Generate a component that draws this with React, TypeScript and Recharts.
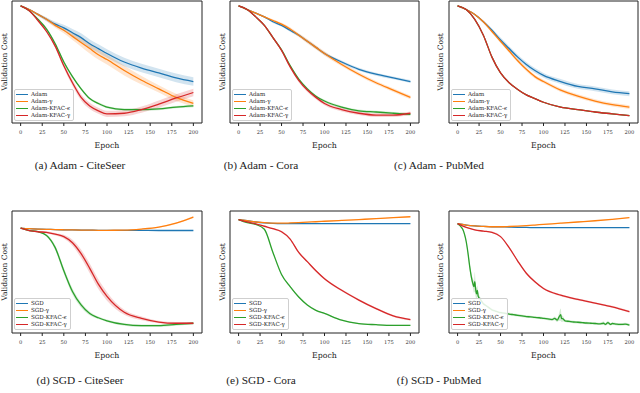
import React from 'react';
import { ComposedChart, Line, Area, XAxis, YAxis, ReferenceArea, Legend } from 'recharts';

const SERIF = "'DejaVu Serif', serif";
const CAPTION_FONT = "'Liberation Serif', 'Times New Roman', serif";
const COLORS = ['#1f77b4', '#ff7f0e', '#2ca02c', '#d62728'];

const EPOCHS = [0, 10, 20, 30, 40, 50, 60, 70, 80, 90, 100, 120, 140, 160, 180, 200];
const X_TICKS = [0, 25, 50, 75, 100, 125, 150, 175, 200];
const ADAM_NAMES = ['Adam', 'Adam-γ', 'Adam-KFAC-ϵ', 'Adam-KFAC-γ'];
const SGD_NAMES = ['SGD', 'SGD-γ', 'SGD-KFAC-ϵ', 'SGD-KFAC-γ'];
const CAPTIONS = ['(a) Adam - CiteSeer', '(b) Adam - Cora', '(c) Adam - PubMed', '(d) SGD - CiteSeer', '(e) SGD - Cora', '(f) SGD - PubMed'];

// (a) Adam - CiteSeer
const aAdam = [96, 93, 89, 85, 81, 78, 74, 70, 65, 61, 57, 50, 45, 41, 37, 34];
const aAdamG = [96, 93, 89, 85, 80, 76, 71, 66, 61, 56, 52, 43, 35, 28, 21, 16];
const aKfacE = [96, 92, 85, 77, 65, 50, 38, 28, 20, 16, 13, 11, 11, 11.5, 13, 14];
const aKfacG = [96, 92, 84, 75, 63, 47, 33, 21, 14, 10, 7.5, 8, 11, 15.5, 20.5, 25];
const aAdamBand = [0, 0.5, 1, 1.5, 2, 2.5, 3, 3.5, 3.5, 3.5, 3.5, 3.5, 3.5, 3.5, 3.5, 3.5];
const aAdamGBand = [0, 0.5, 1, 1.5, 2, 2.5, 3, 3.5, 4, 4, 4, 4, 3.5, 3, 3, 2.5];
const aKfacEBand = [0, 0.3, 0.6, 1, 1.2, 1.2, 1.2, 1, 1, 1, 1, 1, 1, 1, 1, 1];
const aKfacGBand = [0, 0.3, 0.6, 1, 1.5, 2, 2.5, 2.5, 2.5, 2.5, 2.5, 2.5, 2.5, 3, 3, 3];

// (b) Adam - Cora
const bAdam = [96, 93, 90, 87, 83, 80, 76, 72, 67, 62, 57, 50, 44, 40, 37, 34];
const bAdamG = [96, 93, 90, 87, 84, 81, 77, 72, 67, 62, 57, 48, 40, 33, 27, 21];
const bKfacE = [96, 93, 87, 80, 70, 60, 47, 36, 28, 22, 18, 13, 10, 9, 8, 7];
const bKfacG = [96, 93, 87, 80, 70, 59.5, 46, 35, 27, 21, 16, 11, 8, 6.5, 6.5, 8];
const bAdamBand = [0, 0.3, 0.5, 0.8, 1, 1, 1.2, 1.2, 1.2, 1.2, 1.2, 1.2, 1.2, 1.2, 1.2, 1.2];
const bAdamGBand = [0, 0.3, 0.5, 0.8, 1, 1.2, 1.5, 1.5, 1.8, 1.8, 1.8, 1.5, 1.5, 1.5, 1.5, 1.5];
const bKfacEBand = [0, 0.3, 0.5, 0.8, 1, 1, 1, 1, 1, 1, 1, 1, 1, 1, 1, 1];
const bKfacGBand = [0, 0.3, 0.5, 0.8, 1, 1.2, 1.2, 1.5, 1.5, 1.5, 1.5, 1.5, 1.5, 1.5, 1.5, 1.5];

// (c) Adam - PubMed
const cAdam = [96, 93, 89, 83, 76, 68, 61, 54, 48, 43, 39, 34, 30, 28, 25.5, 24];
const cAdamG = [96, 93, 89, 83, 75, 67, 59, 51, 44, 38, 34, 27, 22, 18, 15, 13];
const cKfacE = [96, 93, 85, 72, 54, 41, 33, 27.5, 23, 20, 17, 13, 11, 9, 7.5, 6];
const cKfacG = [96, 93, 85, 72, 54, 41, 33, 27.5, 23, 20, 17, 13, 11, 9, 7.5, 6];
const cAdamBand = [0, 0.3, 0.6, 1, 1.5, 2, 2, 2, 2, 2, 2, 2, 2, 2, 2, 2];
const cAdamGBand = [0, 0.3, 0.6, 1, 1.2, 1.5, 1.5, 1.5, 1.5, 1.5, 1.5, 1.5, 1.5, 1.5, 1.5, 1.5];
const cKfacEBand = [0, 0.2, 0.3, 0.4, 0.5, 0.5, 0.5, 0.5, 0.5, 0.5, 0.5, 0.5, 0.5, 0.5, 0.5, 0.5];
const cKfacGBand = [0, 0.2, 0.3, 0.4, 0.5, 0.5, 0.5, 0.5, 0.5, 0.5, 0.5, 0.5, 0.5, 0.5, 0.5, 0.5];

// (d) SGD - CiteSeer
const dSgd = [86, 85.5, 85.2, 85, 84.8, 84.6, 84.5, 84.4, 84.3, 84.2, 84.2, 84.1, 84.1, 84, 84, 84];
const dSgdG = [86, 85.5, 85.2, 85, 84.8, 84.6, 84.5, 84.4, 84.3, 84.2, 84.2, 84.3, 85.2, 86.8, 90, 95];
const dKfacE = [86, 84, 83, 80, 70, 51, 34, 23, 16, 12.5, 10, 7, 6, 6, 7, 8];
const dKfacG = [86, 84, 83, 82.5, 81, 79, 74, 65, 53, 40, 30, 17, 12, 9, 8, 8];
const dSgdBand = [0, 0.2, 0.2, 0.3, 0.3, 0.3, 0.3, 0.3, 0.3, 0.3, 0.3, 0.3, 0.3, 0.3, 0.3, 0.3];
const dSgdGBand = [0, 0.2, 0.2, 0.3, 0.3, 0.3, 0.3, 0.3, 0.3, 0.3, 0.3, 0.3, 0.4, 0.5, 0.6, 0.8];
const dKfacEBand = [0, 0.5, 0.5, 1, 2, 2.5, 2.5, 2, 1.5, 1, 1, 1, 1, 1, 1, 1];
const dKfacGBand = [0, 0.5, 0.5, 1, 1, 1.5, 2.5, 3.5, 4, 4, 3.5, 2, 1.5, 1, 1, 1];

// (e) SGD - Cora
const eSgd = [93, 92, 91, 90.3, 89.8, 89.6, 89.6, 89.6, 89.6, 89.6, 89.6, 89.6, 89.6, 89.6, 89.6, 89.6];
const eSgdG = [93, 92, 91, 90.5, 90, 90, 90.2, 90.5, 90.9, 91.2, 91.6, 92.3, 93, 93.7, 94.5, 95.3];
const eKfacE = [93, 90.5, 89, 85, 66, 48, 38, 29.5, 23, 18.6, 16, 10.5, 7.7, 6.8, 6.3, 6.3];
const eKfacG = [93, 91, 89.5, 87.5, 85.5, 83, 77, 66, 58.5, 51, 44.5, 35, 27, 20, 14, 11];
const eSgdBand = [0, 0.2, 0.2, 0.2, 0.2, 0.2, 0.2, 0.2, 0.2, 0.2, 0.2, 0.2, 0.2, 0.2, 0.2, 0.2];
const eSgdGBand = [0, 0.2, 0.2, 0.2, 0.2, 0.2, 0.2, 0.2, 0.2, 0.3, 0.3, 0.3, 0.3, 0.3, 0.3, 0.3];
const eKfacEBand = [0, 0.3, 0.4, 0.6, 0.8, 0.8, 0.8, 0.6, 0.6, 0.5, 0.5, 0.5, 0.5, 0.5, 0.5, 0.5];
const eKfacGBand = [0, 0.3, 0.4, 0.5, 0.6, 0.8, 0.8, 0.8, 0.8, 0.8, 0.8, 0.8, 0.8, 0.8, 0.8, 0.8];

// (f) SGD - PubMed
const fSgd = [89.6, 88.5, 87.8, 87.4, 87.1, 87, 86.8, 86.6, 86.5, 86.4, 86.3, 86.3, 86.3, 86.3, 86.3, 86.3];
const fSgdG = [89.6, 88.5, 87.8, 87.4, 87.1, 87.1, 87.3, 87.6, 88, 88.5, 89, 90, 91, 92, 93.2, 94.5];
const fKfacG = [89.6, 86.5, 84.5, 83.5, 82.5, 79, 70, 59, 49, 42, 36.5, 31, 27.5, 24.5, 21.5, 17.5];
const fSgdBand = [0, 0.2, 0.2, 0.2, 0.2, 0.2, 0.2, 0.2, 0.2, 0.2, 0.2, 0.2, 0.2, 0.2, 0.2, 0.2];
const fSgdGBand = [0, 0.2, 0.2, 0.2, 0.2, 0.2, 0.2, 0.2, 0.2, 0.3, 0.3, 0.3, 0.3, 0.3, 0.3, 0.3];
const fKfacGBand = [0, 0.3, 0.4, 0.5, 0.6, 0.8, 0.8, 0.8, 0.8, 0.8, 0.8, 0.8, 0.8, 0.8, 0.8, 0.8];
const fKfacEEpochs = [0, 2, 4, 6, 8, 10, 12, 14, 16, 18, 19, 20, 21, 22, 23, 24, 26, 28, 30, 32, 34, 36, 38, 40, 44, 48, 52, 56, 60, 65, 70, 75, 80, 85, 90, 95, 100, 105, 110, 113, 116, 118, 120, 121, 123, 125, 130, 135, 140, 145, 150, 155, 160, 165, 170, 172, 175, 178, 180, 185, 190, 195, 200];
const fKfacE = [89.6, 88.5, 87, 85, 81, 75, 66, 55, 46, 40, 38, 42, 36, 32, 35, 30, 28, 26, 24, 23, 22, 21, 20, 19, 18, 17, 16.5, 16, 15.5, 15, 14.5, 14, 13.5, 13.2, 12.8, 12.5, 12, 11.5, 11, 12, 10.5, 13, 15, 12, 11.5, 10, 9.5, 9, 8.8, 8.5, 8.2, 8, 7.8, 7.5, 8, 7, 8.5, 7, 7.8, 7.2, 7, 7.3, 6.5];
const fKfacEBand = [0, 0.3, 0.5, 0.8, 1, 1.5, 2, 2.5, 3, 4, 5, 8, 6, 5, 4, 3, 2, 1.5, 1.2, 1, 1, 1, 1, 1, 1, 1, 1, 1, 1, 1, 1, 1, 1, 1, 1, 1, 1, 1, 1, 1.5, 1.5, 3, 5, 3, 2, 1, 1, 1, 1, 1, 1, 1, 1, 1, 1.5, 1, 1.5, 1, 1, 1, 1, 1, 1];

type Series = { epochs: number[]; values: number[]; band: number[] };
const mk = (values: number[], band: number[], epochs: number[] = EPOCHS): Series => ({ epochs, values, band });

function buildRows(series: Series[]) {
  const all = Array.from(new Set(series.flatMap((s) => s.epochs))).sort((a, b) => a - b);
  return all.map((ep) => {
    const row: any = { epoch: ep };
    series.forEach((s, i) => {
      const k = s.epochs.indexOf(ep);
      if (k >= 0) {
        row[`s${i}`] = s.values[k];
        row[`b${i}`] = [s.values[k] - s.band[k], s.values[k] + s.band[k]];
      }
    });
    return row;
  });
}

const LegendBox = ({ names }: { names: string[] }) => (
  <div
    style={{
      border: '0.7px solid #cfcfcf',
      borderRadius: 2,
      background: 'rgba(255,255,255,0.85)',
      padding: '1px 3px 1px 1px',
      fontFamily: SERIF,
      fontSize: 5.6,
      lineHeight: '7px',
      color: '#222',
      display: 'inline-block',
    }}
  >
    {names.map((n, i) => (
      <div key={i} style={{ display: 'flex', alignItems: 'center', whiteSpace: 'nowrap' }}>
        <span style={{ display: 'inline-block', width: 12, height: 1.4, background: COLORS[i], marginRight: 3 }} />
        {n}
      </div>
    ))}
  </div>
);

type PanelProps = {
  series: Series[];
  names: string[];
  plotLeft: number;
  plotRight: number;
  plotTop: number;
  plotBottom: number;
  labelX: number;
  legendTop: number;
};

function Panel({ series, names, plotLeft, plotRight, plotTop, plotBottom, labelX, legendTop }: PanelProps) {
  const rows = buildRows(series);
  const containerLeft = labelX - 4;
  const containerTop = plotTop - 1;
  const width = plotRight + 1 - containerLeft;
  const xAxisH = 28;
  const height = plotBottom - plotTop + 1 + xAxisH;
  return (
    <div style={{ position: 'absolute', left: containerLeft, top: containerTop }}>
      <ComposedChart width={width} height={height} data={rows} margin={{ top: 1, right: 1, bottom: 0, left: 0 }}>
        <XAxis
          dataKey="epoch"
          type="number"
          domain={[-10, 210]}
          allowDataOverflow
          ticks={X_TICKS}
          interval={0}
          height={xAxisH}
          axisLine={false}
          tickLine={{ stroke: '#222', strokeWidth: 1 }}
          tickSize={3}
          tickMargin={4}
          tick={{ fontSize: 5.2, fill: '#333', fontFamily: SERIF }}
          label={{ value: 'Epoch', position: 'insideBottom', offset: 3, style: { fontSize: 7.8, fill: '#222', fontFamily: SERIF } }}
        />
        <YAxis
          type="number"
          domain={[0, 100]}
          allowDataOverflow
          width={plotLeft - containerLeft}
          tick={false}
          axisLine={false}
          tickLine={false}
          label={{
            value: 'Validation Cost',
            angle: -90,
            position: 'insideLeft',
            offset: 4,
            style: { textAnchor: 'middle', fontSize: 7.5, fill: '#222', fontFamily: SERIF },
          }}
        />
        {series.map((_, i) => (
          <Area
            key={`band${i}`}
            dataKey={`b${i}`}
            type="monotone"
            stroke="none"
            fill={COLORS[i]}
            fillOpacity={0.2}
            connectNulls
            isAnimationActive={false}
            activeDot={false}
            legendType="none"
          />
        ))}
        {series.map((_, i) => (
          <Line
            key={`line${i}`}
            dataKey={`s${i}`}
            type="monotone"
            stroke={COLORS[i]}
            strokeWidth={1.3}
            dot={false}
            activeDot={false}
            connectNulls
            isAnimationActive={false}
          />
        ))}
        <ReferenceArea x1={-10} x2={210} y1={0} y2={100} fill="none" fillOpacity={0} stroke="#222" strokeWidth={1} ifOverflow="visible" />
        <Legend
          layout="vertical"
          align="center"
          verticalAlign="middle"
          wrapperStyle={{ left: plotLeft + 2 - containerLeft, top: legendTop - containerTop, width: 'auto', height: 'auto' }}
          content={() => <LegendBox names={names} />}
        />
      </ComposedChart>
    </div>
  );
}

const COLS = [
  { plotLeft: 12, plotRight: 202, labelX: 4, captionX: 80 },
  { plotLeft: 230, plotRight: 419, labelX: 222, captionX: 261 },
  { plotLeft: 449, plotRight: 638, labelX: 440, captionX: 439 },
];
const ROWS = [
  { plotTop: 1, plotBottom: 123, legendTop: 89, captionY: 165 },
  { plotTop: 211, plotBottom: 333, legendTop: 298, captionY: 380 },
];

const PANELS: { series: Series[]; names: string[] }[] = [
  { series: [mk(aAdam, aAdamBand), mk(aAdamG, aAdamGBand), mk(aKfacE, aKfacEBand), mk(aKfacG, aKfacGBand)], names: ADAM_NAMES },
  { series: [mk(bAdam, bAdamBand), mk(bAdamG, bAdamGBand), mk(bKfacE, bKfacEBand), mk(bKfacG, bKfacGBand)], names: ADAM_NAMES },
  { series: [mk(cAdam, cAdamBand), mk(cAdamG, cAdamGBand), mk(cKfacE, cKfacEBand), mk(cKfacG, cKfacGBand)], names: ADAM_NAMES },
  { series: [mk(dSgd, dSgdBand), mk(dSgdG, dSgdGBand), mk(dKfacE, dKfacEBand), mk(dKfacG, dKfacGBand)], names: SGD_NAMES },
  { series: [mk(eSgd, eSgdBand), mk(eSgdG, eSgdGBand), mk(eKfacE, eKfacEBand), mk(eKfacG, eKfacGBand)], names: SGD_NAMES },
  { series: [mk(fSgd, fSgdBand), mk(fSgdG, fSgdGBand), mk(fKfacE, fKfacEBand, fKfacEEpochs), mk(fKfacG, fKfacGBand)], names: SGD_NAMES },
];

export default function App() {
  return (
    <div style={{ position: 'absolute', left: 0, top: 0, width: 640, height: 393, background: '#fff', overflow: 'hidden' }}>
      {PANELS.map((p, idx) => {
        const col = COLS[idx % 3];
        const row = ROWS[Math.floor(idx / 3)];
        return (
          <React.Fragment key={idx}>
            <Panel
              series={p.series}
              names={p.names}
              plotLeft={col.plotLeft}
              plotRight={col.plotRight}
              plotTop={row.plotTop}
              plotBottom={row.plotBottom}
              labelX={col.labelX}
              legendTop={row.legendTop}
            />
            <div
              style={{
                position: 'absolute',
                left: col.captionX,
                top: row.captionY - 7,
                transform: 'translateX(-50%)',
                fontFamily: CAPTION_FONT,
                fontWeight: 400,
                fontSize: 11.3,
                lineHeight: '14px',
                whiteSpace: 'nowrap',
                color: '#222',
              }}
            >
              {CAPTIONS[idx]}
            </div>
          </React.Fragment>
        );
      })}
    </div>
  );
}
